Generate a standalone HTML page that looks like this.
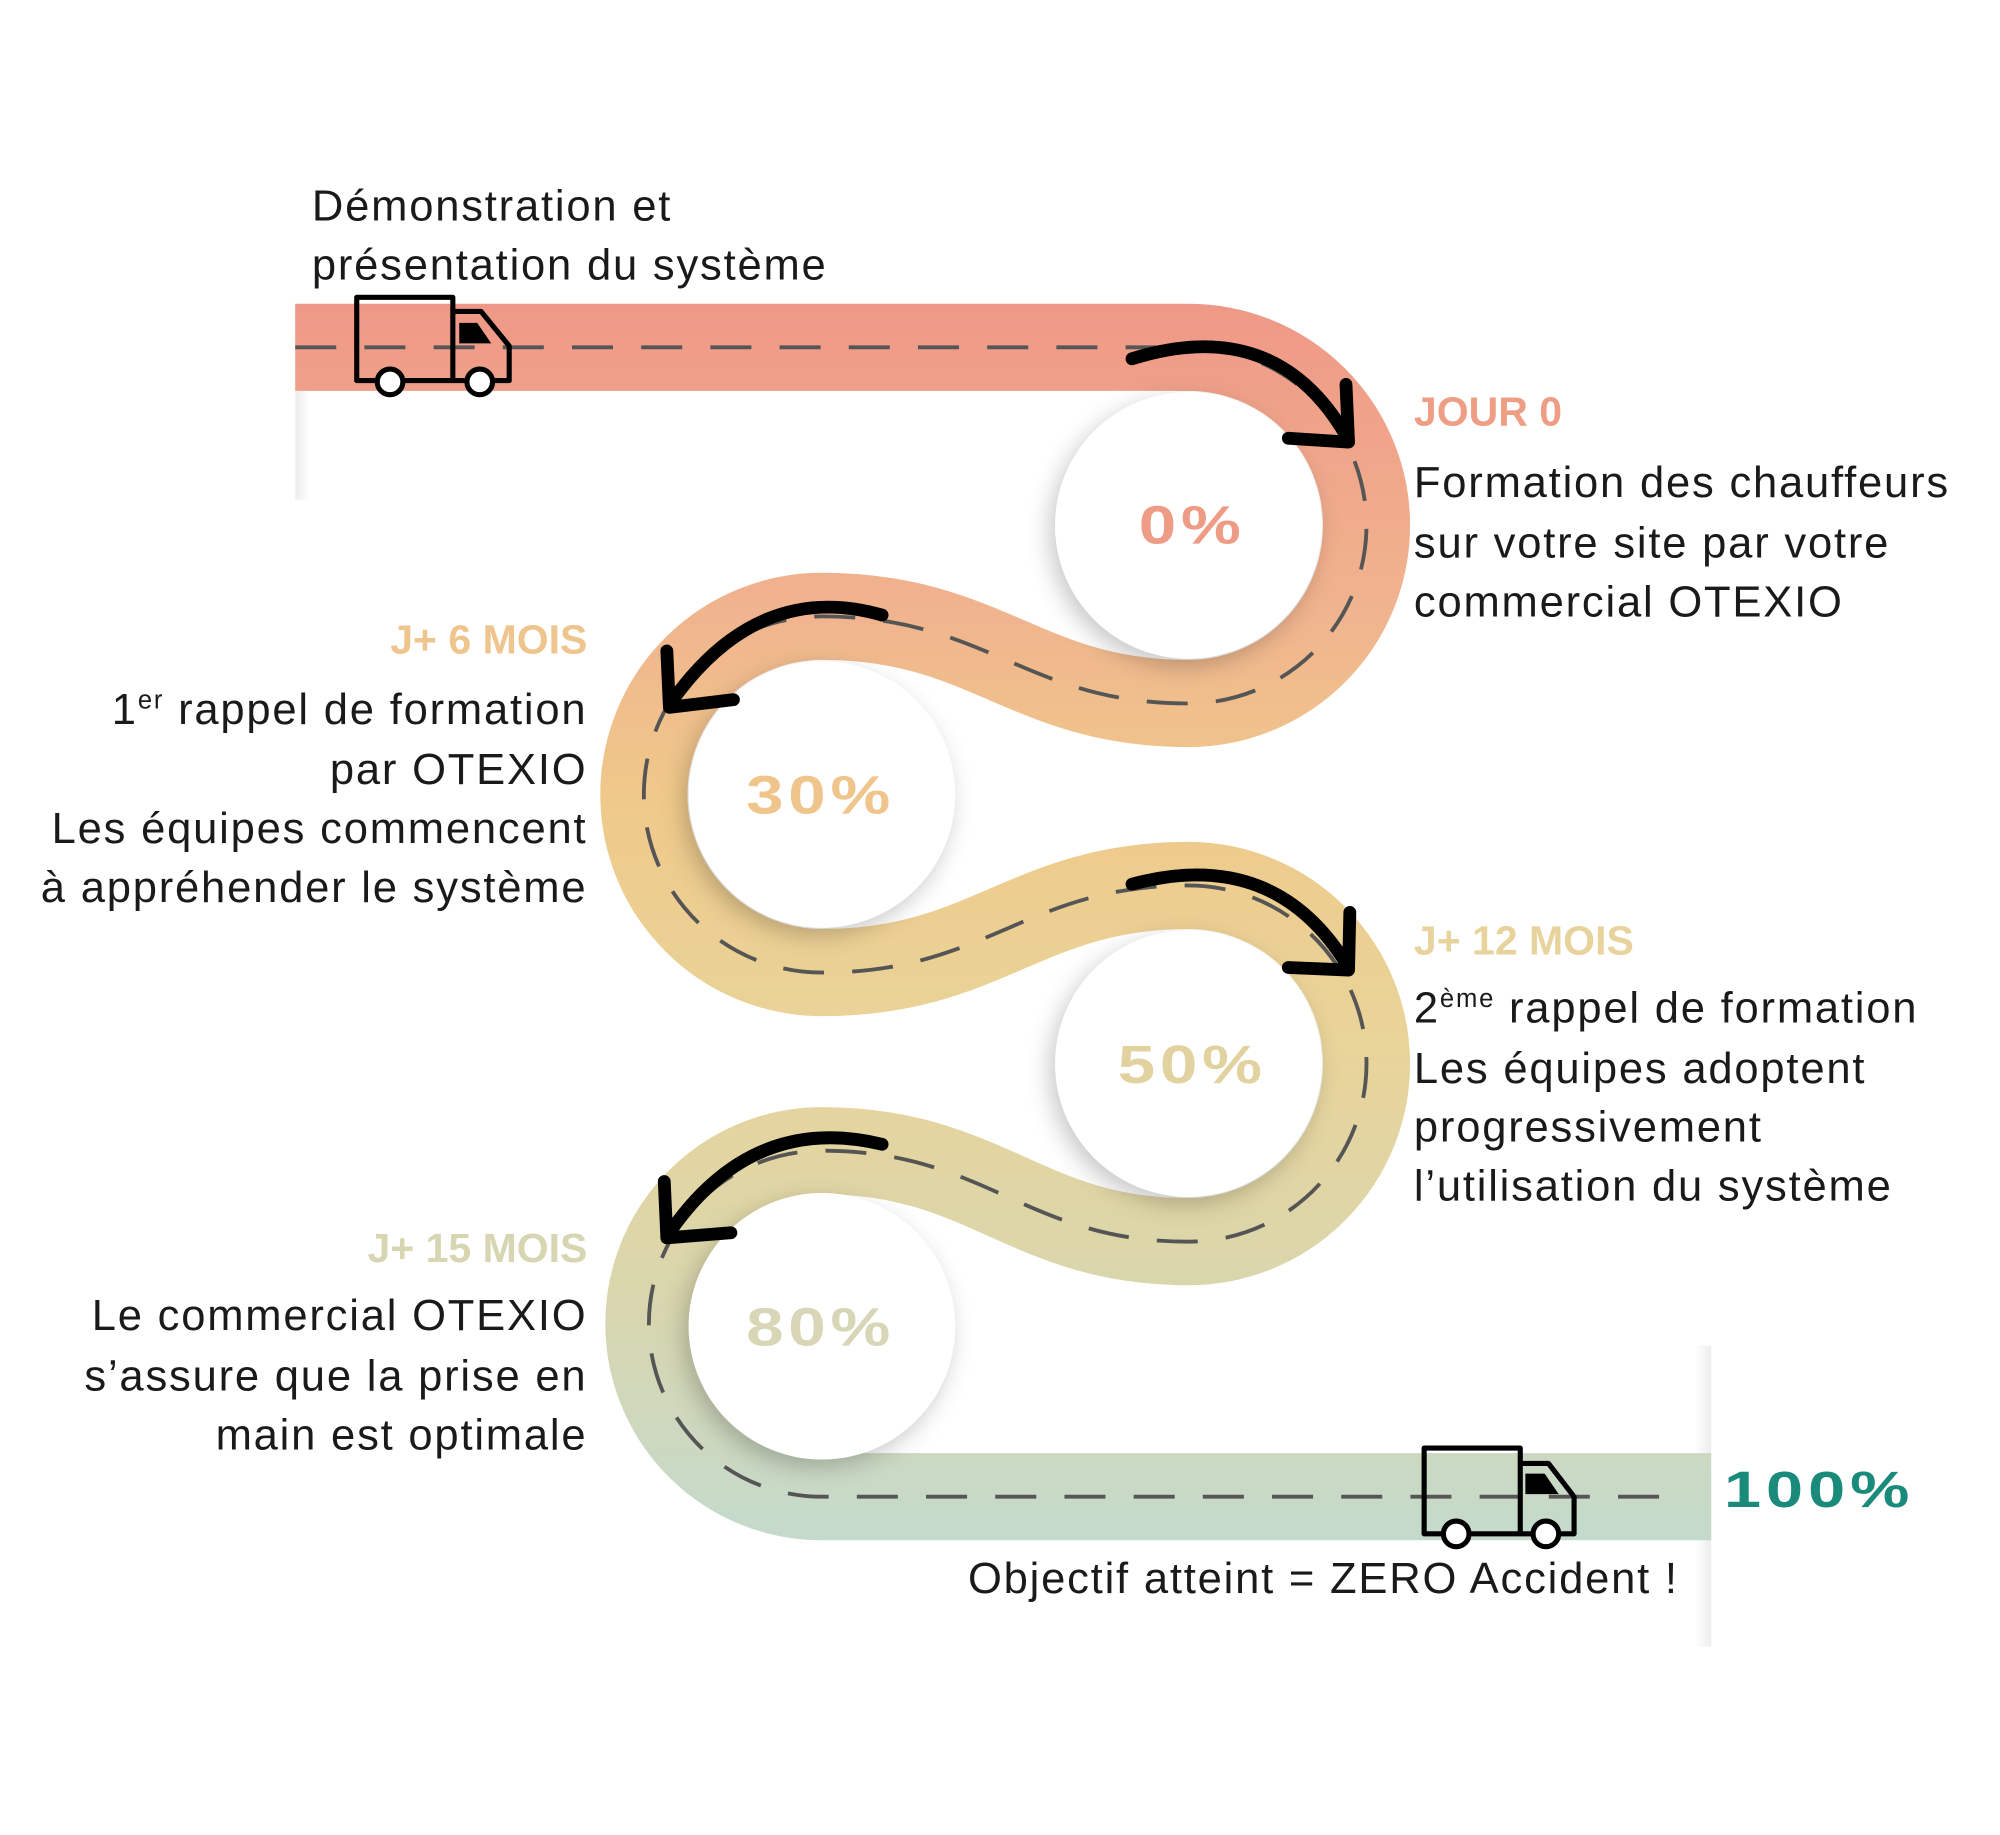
<!DOCTYPE html>
<html><head><meta charset="utf-8"><style>
html,body{margin:0;padding:0;background:#fff;}
svg{display:block}
text{font-family:"Liberation Sans",sans-serif;fill:#1a1a1a;font-size:34px;letter-spacing:1.4px}
.h{font-weight:bold;font-size:32px;letter-spacing:0px}
.p{font-weight:900;font-size:42px;letter-spacing:3px}
</style></head><body>
<svg width="2000" height="1835" viewBox="0 0 1560 1432" xmlns="http://www.w3.org/2000/svg">
<defs>
<linearGradient id="g" gradientUnits="userSpaceOnUse" x1="0" y1="237" x2="0" y2="1202">
<stop offset="0" stop-color="#ef9887"/>
<stop offset="0.25" stop-color="#f0b48e"/>
<stop offset="0.4" stop-color="#efc98a"/>
<stop offset="0.6" stop-color="#e9d49a"/>
<stop offset="0.8" stop-color="#d9d6ad"/>
<stop offset="1" stop-color="#c4dacc"/>
</linearGradient>
<filter id="s" x="-30%" y="-30%" width="160%" height="160%"><feDropShadow dx="-4" dy="6" stdDeviation="9" flood-color="#000" flood-opacity="0.22"/></filter>
<linearGradient id="fl" x1="0" y1="0" x2="1" y2="0"><stop offset="0" stop-color="#000" stop-opacity="0.07"/><stop offset="1" stop-color="#000" stop-opacity="0"/></linearGradient>
<linearGradient id="fr" x1="1" y1="0" x2="0" y2="0"><stop offset="0" stop-color="#000" stop-opacity="0.07"/><stop offset="1" stop-color="#000" stop-opacity="0"/></linearGradient>
<linearGradient id="vm" x1="0" y1="0" x2="0" y2="1"><stop offset="0" stop-color="#fff" stop-opacity="1"/><stop offset="1" stop-color="#fff" stop-opacity="0"/></linearGradient>
<mask id="m1"><rect x="0" y="0" width="1560" height="1432" fill="url(#vm)"/></mask>
</defs>
<rect x="230" y="305" width="12" height="85" fill="url(#fl)"/>
<rect x="1322" y="1050" width="13" height="235" fill="url(#fr)"/>
<path d="M230,271 L927,271 A139,139 0 0 1 927,549 C800,549 770,481 641,481 A139,139 0 0 0 641,759 C770,759 800,691 927,691 A139,139 0 0 1 927,969 C800,969 770,898 641,898 A135,135 0 0 0 641,1168 L1335,1168" fill="none" stroke="url(#g)" stroke-width="68"/>
<path d="M230,271 L927,271 A139,139 0 0 1 927,549 C800,549 770,481 641,481 A139,139 0 0 0 641,759 C770,759 800,691 927,691 A139,139 0 0 1 927,969 C800,969 770,898 641,898 A135,135 0 0 0 641,1168 L1300,1168" fill="none" stroke="#555" stroke-width="3" stroke-dasharray="32 22"/>
<g fill="#fff" filter="url(#s)">
<circle cx="927" cy="410" r="104"/>
<circle cx="641" cy="620" r="104"/>
<circle cx="927" cy="830" r="104"/>
<circle cx="641" cy="1035" r="104"/>
</g>
<g transform="translate(930,424) scale(1.25,1)"><text class="p" text-anchor="middle" style="fill:#ee9c85">0%</text></g>
<g transform="translate(640,635) scale(1.25,1)"><text class="p" text-anchor="middle" style="fill:#efc58c">30%</text></g>
<g transform="translate(930,845) scale(1.25,1)"><text class="p" text-anchor="middle" style="fill:#e2d29f">50%</text></g>
<g transform="translate(640,1050) scale(1.25,1)"><text class="p" text-anchor="middle" style="fill:#d8d6b6">80%</text></g>
<g transform="translate(1345,1176) scale(1.3,1)"><text class="p" style="fill:#1a8a7a;font-size:40px">100%</text></g>
<g fill="none" stroke="#000" stroke-width="10" stroke-linecap="round" stroke-linejoin="round">
<path d="M883,280 Q995,245 1050,340"/><path d="M1005,342 L1052,345 L1050,300"/>
<path d="M688,480 Q590,452 522,550"/><path d="M572,546 L522,552 L520,508"/>
<path d="M883,690 Q995,660 1052,755"/><path d="M1005,755 L1052,757 L1053,712"/>
<path d="M688,893 Q585,868 520,965"/><path d="M570,962 L520,966 L518,922"/>
</g>
<g fill="none" stroke="#000" stroke-width="4" stroke-linejoin="round">
<rect x="278" y="232" width="75" height="65"/>
<path d="M353,243 L375,243 L397,270 L397,297 L353,297"/>
<circle cx="304" cy="298" r="10" fill="#fff"/><circle cx="374" cy="298" r="10" fill="#fff"/>
<rect x="1111" y="1130" width="75" height="67"/>
<path d="M1186,1142 L1208,1142 L1228,1168 L1228,1197 L1186,1197"/>
<circle cx="1136" cy="1197" r="10" fill="#fff"/><circle cx="1206" cy="1197" r="10" fill="#fff"/>
</g>
<path d="M358,252 L372,252 L383,268 L358,268Z" fill="#000"/>
<path d="M1190,1150 L1205,1150 L1216,1166 L1190,1166Z" fill="#000"/>
<text x="243" y="172">Démonstration et</text>
<text x="243" y="218">présentation du système</text>
<text class="h" x="1103" y="332" style="fill:#ef9e86">JOUR 0</text>
<text x="1103" y="388">Formation des chauffeurs</text>
<text x="1103" y="435">sur votre site par votre</text>
<text x="1103" y="481">commercial OTEXIO</text>
<text class="h" x="458" y="510" text-anchor="end" style="fill:#efc58e">J+ 6 MOIS</text>
<text x="458" y="565" text-anchor="end">1<tspan dy="-12" font-size="20">er</tspan><tspan dy="12"> rappel de formation</tspan></text>
<text x="458" y="612" text-anchor="end">par OTEXIO</text>
<text x="458" y="658" text-anchor="end">Les équipes commencent</text>
<text x="458" y="704" text-anchor="end">à appréhender le système</text>
<text class="h" x="1103" y="745" style="fill:#e8d39c">J+ 12 MOIS</text>
<text x="1103" y="798">2<tspan dy="-12" font-size="20">ème</tspan><tspan dy="12"> rappel de formation</tspan></text>
<text x="1103" y="845">Les équipes adoptent</text>
<text x="1103" y="891">progressivement</text>
<text x="1103" y="937">l’utilisation du système</text>
<text class="h" x="458" y="985" text-anchor="end" style="fill:#d8d6b2">J+ 15 MOIS</text>
<text x="458" y="1038" text-anchor="end">Le commercial OTEXIO</text>
<text x="458" y="1085" text-anchor="end">s’assure que la prise en</text>
<text x="458" y="1131" text-anchor="end">main est optimale</text>
<text x="755" y="1243">Objectif atteint = ZERO Accident !</text>
</svg>
</body></html>
